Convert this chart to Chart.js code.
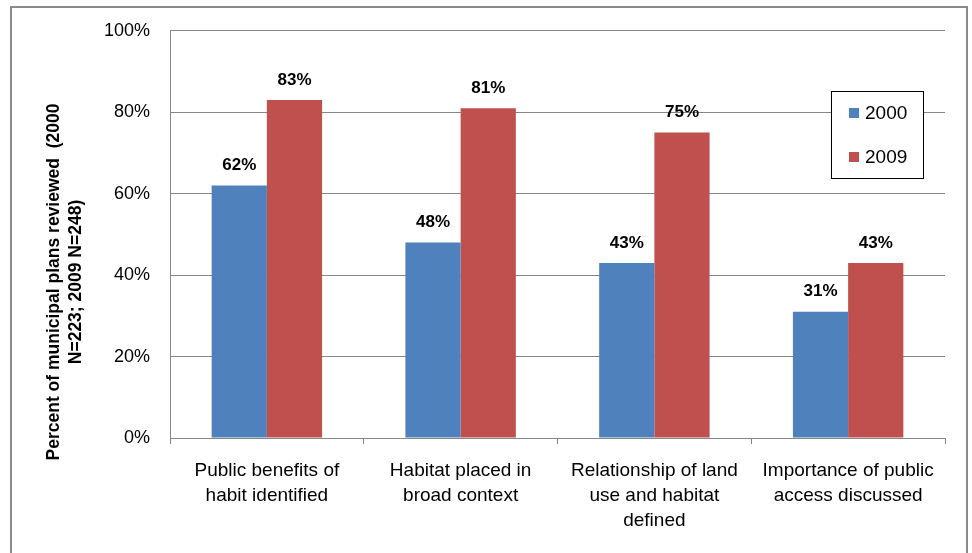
<!DOCTYPE html>
<html>
<head>
<meta charset="utf-8">
<script src="https://cdn.jsdelivr.net/npm/chart.js@4/dist/chart.umd.min.js"></script>
<style>
  html, body { margin: 0; padding: 0; background: #fff; }
  #wrap { width: 972px; height: 553px; position: relative; }
</style>
</head>
<body>
<div id="wrap"><canvas id="c" width="972" height="553"></canvas></div>
<script>
const categories = [
  ["Public benefits of", "habit identified"],
  ["Habitat placed in", "broad context"],
  ["Relationship of land", "use and habitat", "defined"],
  ["Importance of public", "access discussed"]
];
const seriesNames = ["2000", "2009"];
const values2000 = [62, 48, 43, 31];
const values2009 = [83, 81, 75, 43];
const yTicks = [0, 20, 40, 60, 80, 100];
const yTitle = ["Percent of municipal plans reviewed  (2000", "N=223; 2009 N=248)"];

const BLUE = "#4F81BD", RED = "#C0504D", GRID = "#868686";
const FONT = "'Liberation Sans', Arial, sans-serif";

const framePlugin = {
  id: "frame",
  beforeDraw(chart) {
    const ctx = chart.ctx;
    ctx.save();
    ctx.fillStyle = "#fff";
    ctx.fillRect(0, 0, chart.width, chart.height);
    ctx.strokeStyle = "#8a8a8a";
    ctx.lineWidth = 2;
    ctx.strokeRect(11, 7, 956, 600);
    ctx.restore();
  }
};

const labelPlugin = {
  id: "barLabels",
  afterDatasetsDraw(chart) {
    const ctx = chart.ctx;
    ctx.save();
    ctx.font = "bold 17px " + FONT;
    ctx.fillStyle = "#000";
    ctx.textAlign = "center";
    ctx.textBaseline = "middle";
    chart.data.datasets.forEach((ds, i) => {
      const meta = chart.getDatasetMeta(i);
      meta.data.forEach((bar, j) => {
        ctx.fillText(ds.data[j] + "%", bar.x, bar.y - 20);
      });
    });
    ctx.restore();
  }
};

const legendPlugin = {
  id: "boxLegend",
  afterDraw(chart) {
    const ctx = chart.ctx;
    ctx.save();
    const x0 = 831.5, y0 = 91.5, w = 92, h = 87;
    ctx.fillStyle = "#fff";
    ctx.fillRect(x0, y0, w, h);
    ctx.strokeStyle = "#000";
    ctx.lineWidth = 1;
    ctx.strokeRect(x0, y0, w, h);
    ctx.font = "19px " + FONT;
    ctx.textBaseline = "middle";
    ctx.textAlign = "left";
    chart.data.datasets.forEach((ds, i) => {
      const cy = 113 + i * 44;
      ctx.fillStyle = ds.backgroundColor;
      ctx.fillRect(849, cy - 5, 10, 10);
      ctx.fillStyle = "#000";
      ctx.fillText(ds.label, 865, cy + 1);
    });
    ctx.restore();
  }
};

const yTitlePlugin = {
  id: "yTitle",
  afterDraw(chart) {
    const ctx = chart.ctx;
    ctx.save();
    ctx.font = "bold 17.5px " + FONT;
    ctx.fillStyle = "#000";
    ctx.textAlign = "center";
    ctx.textBaseline = "middle";
    yTitle.forEach((line, i) => {
      ctx.save();
      ctx.translate(54 + i * 22, 282);
      ctx.rotate(-Math.PI / 2);
      ctx.fillText(line, 0, 0);
      ctx.restore();
    });
    ctx.restore();
  }
};

new Chart(document.getElementById("c"), {
  type: "bar",
  data: {
    labels: categories,
    datasets: [
      { label: seriesNames[0], data: values2000, backgroundColor: BLUE, borderWidth: 0 },
      { label: seriesNames[1], data: values2009, backgroundColor: RED, borderWidth: 0 }
    ]
  },
  options: {
    responsive: false,
    animation: false,
    devicePixelRatio: 1,
    layout: { padding: { top: 30, right: 27, left: 0, bottom: 0 } },
    plugins: { legend: { display: false }, tooltip: { enabled: false } },
    datasets: { bar: { barPercentage: 1.0, categoryPercentage: 0.57 } },
    scales: {
      x: {
        grid: { display: true, drawOnChartArea: false, drawTicks: true, tickLength: 6, color: GRID, offset: true },
        border: { display: true, color: GRID, width: 1 },
        ticks: { color: "#000", font: { family: FONT, size: 19, lineHeight: 1.32 }, padding: 14, maxRotation: 0, autoSkip: false },
        afterFit(scale) { scale.height = 115; }
      },
      y: {
        min: 0, max: 100,
        afterBuildTicks(scale) { scale.ticks = yTicks.map(v => ({ value: v })); },
        grid: { color: GRID, drawTicks: false },
        border: { display: true, color: GRID, width: 1 },
        ticks: { color: "#000", font: { family: FONT, size: 18 }, padding: 20, callback: v => v + "%" },
        afterFit(scale) { scale.width = 170; }
      }
    }
  },
  plugins: [framePlugin, labelPlugin, legendPlugin, yTitlePlugin]
});
</script>
</body>
</html>
